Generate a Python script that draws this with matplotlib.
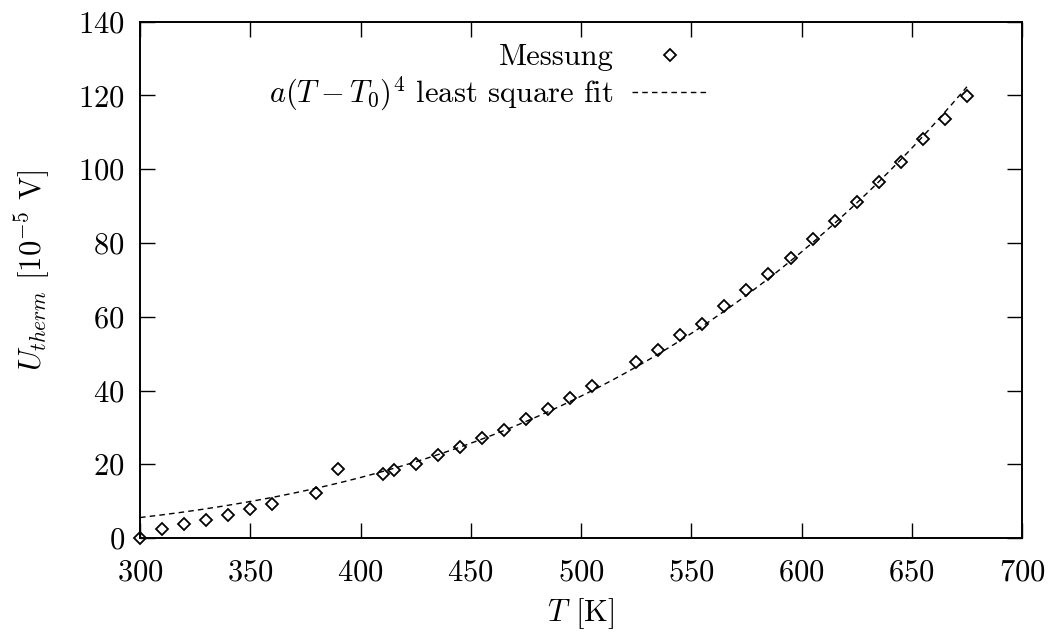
import numpy as np
import matplotlib
matplotlib.use("Agg")
import matplotlib.pyplot as plt

# measured thermopile voltage vs temperature
temperature = [300, 310, 320, 330, 340, 350, 360, 380, 390, 410, 415, 425, 435,
               445, 455, 465, 475, 485, 495, 505, 525, 535, 545, 555, 565, 575,
               585, 595, 605, 615, 625, 635, 645, 655, 665, 675]
voltage = [0.0, 2.4, 3.8, 4.9, 6.2, 7.8, 9.1, 12.1, 18.6, 17.4, 18.4, 20.2, 22.6,
           24.6, 27.0, 29.3, 32.2, 34.9, 38.1, 41.2, 47.8, 50.9, 55.0, 57.9, 62.9, 67.2,
           71.5, 75.9, 81.2, 86.0, 91.0, 96.4, 102.0, 108.3, 113.5, 119.8]

xTicks = [300, 350, 400, 450, 500, 550, 600, 650, 700]
yTicks = [0, 20, 40, 60, 80, 100, 120, 140]

T = np.array(temperature, dtype=float)
U = np.array(voltage, dtype=float)

# least square fit of a*(T-T0)^4: scan T0, a has a closed form for each T0
bestErr, bestA, bestT0 = None, None, None
for t0 in np.arange(-300.0, 299.0, 0.1):
    g = (T - t0) ** 4
    a = np.sum(U * g) / np.sum(g * g)
    err = np.sum((U - a * g) ** 2)
    if bestErr is None or err < bestErr:
        bestErr, bestA, bestT0 = err, a, t0

fitT = np.linspace(300, 675, 200)
fitU = bestA * (fitT - bestT0) ** 4

plt.rcParams["font.family"] = "serif"
plt.rcParams["font.serif"] = ["cmr10"]
plt.rcParams["mathtext.fontset"] = "cm"
plt.rcParams["axes.formatter.use_mathtext"] = True

fs = 22

fig = plt.figure(figsize=(10.49, 6.36), dpi=100)
ax = fig.add_axes([0.1335, 0.154, 0.8408, 0.812])

ax.plot(T, U, linestyle="none", marker="D", markersize=6, markerfacecolor="none",
        markeredgecolor="black", markeredgewidth=1.3, label="Messung", clip_on=False)
ax.plot(fitT, fitU, color="black", linewidth=1.0, dashes=(4, 3),
        label=r"$a(T-T_0)^4$ least square fit")

ax.set_xlim(300, 700)
ax.set_ylim(0, 140)
ax.set_xticks(xTicks)
ax.set_yticks(yTicks)
ax.tick_params(direction="in", length=11, width=1.0, labelsize=fs,
               top=True, right=True)
ax.tick_params(axis="x", pad=15)
ax.tick_params(axis="y", pad=11)
for side in ax.spines.values():
    side.set_linewidth(1.4)

ax.set_xlabel(r"$T$ [K]", fontsize=fs)
ax.set_ylabel(r"$U_{therm}$ [$10^{-5}$ V]", fontsize=fs)
ax.xaxis.set_label_coords(0.5, -0.112)
ax.yaxis.set_label_coords(-0.099, 0.518)

ax.legend(loc="upper right", bbox_to_anchor=(708 / 1049, 1 - 44 / 636),
          bbox_transform=fig.transFigure, frameon=False, markerfirst=False,
          fontsize=fs, handlelength=2.5, handletextpad=0.6,
          labelspacing=0.1, borderpad=0.0, borderaxespad=0.0)

fig.savefig("out.png", dpi=100)
